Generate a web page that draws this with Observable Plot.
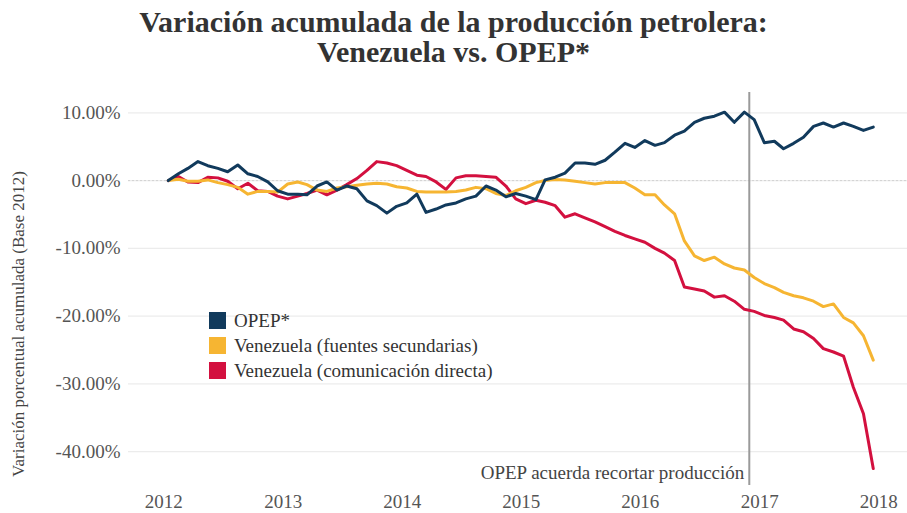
<!DOCTYPE html>
<html><head><meta charset="utf-8">
<script src="https://cdn.jsdelivr.net/npm/d3@7"></script>
<script src="https://cdn.jsdelivr.net/npm/@observablehq/plot@0.6"></script>
<style>
html,body{margin:0;padding:0;background:#fff;}
#wrap{position:relative;width:907px;height:513px;overflow:hidden;font-family:"Liberation Serif","Times New Roman",serif;}
#title{position:absolute;top:7px;left:0;width:907px;text-align:center;font-weight:bold;font-size:30px;line-height:30px;color:#333;}
#chart{position:absolute;top:80px;left:0;}
#legend{position:absolute;left:209px;top:308px;font-size:19px;color:#333;}
.row{display:flex;align-items:center;height:25px;}
.sw{width:17px;height:17px;margin-right:8px;}
</style>
</head><body>
<div id="wrap">
  <div id="title">Variación acumulada de la producción petrolera:<br>Venezuela vs. OPEP*</div>
  <div id="chart"></div>
  <div id="legend"></div>
</div>
<script>
// ---- data (monthly, Jan 2012 – Dec 2017, % change vs base 2012) ----
const seriesNames = ["OPEP*", "Venezuela (fuentes secundarias)", "Venezuela (comunicación directa)"];
const seriesColors = ["#113a5c", "#f6b532", "#d3103f"];
const firstMonth = "2012-01-15";
const opep = [0, 1.0, 1.8, 2.8, 2.2, 1.8, 1.3, 2.3, 1.0, 0.6, -0.2, -1.5,
  -2.0, -2.0, -2.1, -0.8, -0.2, -1.4, -0.8, -1.2, -3.0, -3.7, -4.8, -3.8,
  -3.3, -2.0, -4.7, -4.2, -3.6, -3.3, -2.7, -2.3, -0.8, -1.4, -2.4, -1.9,
  -2.3, -2.8, 0.1, 0.5, 1.1, 2.6, 2.6, 2.4, 3.0, 4.2, 5.5, 4.9,
  5.9, 5.2, 5.6, 6.7, 7.3, 8.6, 9.2, 9.5, 10.1, 8.6, 10.1, 9.0,
  5.6, 5.8, 4.7, 5.5, 6.4, 8.0, 8.5, 7.9, 8.5, 8.0, 7.4, 7.9];
const venSecundarias = [0, 0.2, -0.1, -0.1, 0.1, -0.3, -0.6, -1.0, -2.0, -1.6, -1.6, -1.7,
  -0.5, -0.2, -0.6, -1.4, -1.6, -1.1, -0.9, -0.7, -0.5, -0.4, -0.5, -0.9,
  -1.1, -1.6, -1.7, -1.7, -1.7, -1.6, -1.4, -1.0, -1.2, -1.9, -2.2, -1.5,
  -1.0, -0.3, 0.0, 0.15, 0.1, -0.1, -0.3, -0.5, -0.3, -0.3, -0.3, -1.1,
  -2.1, -2.1, -3.6, -4.9, -8.9, -11.1, -11.8, -11.3, -12.3, -12.9, -13.2, -14.3,
  -15.2, -15.8, -16.5, -17.0, -17.3, -17.8, -18.6, -18.2, -20.2, -21.0, -22.9, -26.5];
const venDirecta = [0, 0.6, -0.2, -0.3, 0.5, 0.4, -0.1, -1.2, -0.4, -1.5, -1.6, -2.3,
  -2.7, -2.3, -1.9, -1.4, -2.1, -1.4, -0.6, 0.3, 1.5, 2.8, 2.6, 2.2,
  1.5, 0.8, 0.6, -0.2, -1.3, 0.4, 0.7, 0.7, 0.6, 0.5, -0.8, -2.7,
  -3.4, -2.9, -3.2, -3.7, -5.4, -4.9, -5.5, -6.1, -6.8, -7.5, -8.1, -8.6,
  -9.1, -10.0, -10.7, -11.8, -15.7, -16.0, -16.3, -17.2, -17.0, -17.8, -19.0, -19.3,
  -19.9, -20.2, -20.6, -21.9, -22.3, -23.3, -24.8, -25.3, -25.9, -30.5, -34.4, -42.5];
const yTicks = [10, 0, -10, -20, -30, -40];
const xTickYears = ["2012", "2013", "2014", "2015", "2016", "2017", "2018"];
const eventDate = "2016-11-30";
const eventLabel = "OPEP acuerda recortar producción";
const yLabel = "Variación porcentual acumulada (Base 2012)";

// ---- build table ----
const start = new Date(firstMonth);
const rows = [];
[opep, venSecundarias, venDirecta].forEach((vals, s) => {
  vals.forEach((v, i) => {
    const d = new Date(Date.UTC(start.getUTCFullYear(), start.getUTCMonth() + i, 15));
    rows.push({date: d, value: v, series: seriesNames[s]});
  });
});
const drawOrder = [seriesNames[2], seriesNames[1], seriesNames[0]];

const chart = Plot.plot({
  width: 907, height: 433,
  marginLeft: 128, marginRight: 0, marginTop: 12, marginBottom: 28,
  style: {fontFamily: "'Liberation Serif', 'Times New Roman', serif", fontSize: "19px", color: "#555", background: "transparent", overflow: "visible"},
  x: {type: "utc", domain: [new Date("2011-09-15"), new Date("2018-03-30")],
      ticks: xTickYears.map(y => new Date(y + "-01-01")), tickFormat: d3.utcFormat("%Y"),
      tickSize: 0, tickPadding: 9, label: null},
  y: {domain: [-45, 13], ticks: yTicks, tickFormat: d => d.toFixed(2) + "%",
      tickSize: 0, tickPadding: 8, label: null},
  color: {domain: seriesNames, range: seriesColors},
  marks: [
    Plot.ruleY(yTicks, {stroke: "#ececec", strokeWidth: 1.2}),
    Plot.ruleY([0], {stroke: "#d2d2d2", strokeDasharray: "2,2"}),
    Plot.ruleX([new Date(eventDate)], {stroke: "#9a9a9a", strokeWidth: 2}),
    Plot.text([eventLabel], {x: () => new Date(eventDate), text: d => d, frameAnchor: "bottom", textAnchor: "end", dx: -5, dy: -7, fill: "#444", fontSize: 19}),
    Plot.text([yLabel], {text: d => d, frameAnchor: "left", textAnchor: "middle", rotate: -90, dx: -110, dy: 35, fill: "#444", fontSize: 17}),
    ...drawOrder.map(name => Plot.line(rows.filter(r => r.series === name), {
      x: "date", y: "value", stroke: "series", strokeWidth: 3, strokeLinejoin: "round", strokeLinecap: "round"
    }))
  ]
});
document.getElementById("chart").appendChild(chart);

// ---- legend ----
const lg = document.getElementById("legend");
seriesNames.forEach((n, i) => {
  const r = document.createElement("div"); r.className = "row";
  const sw = document.createElement("div"); sw.className = "sw"; sw.style.background = seriesColors[i];
  const t = document.createElement("span"); t.textContent = n;
  r.appendChild(sw); r.appendChild(t); lg.appendChild(r);
});
</script>
</body></html>
